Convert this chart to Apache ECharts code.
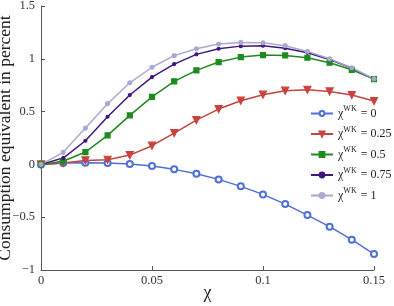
<!DOCTYPE html>
<html>
<head>
<meta charset="utf-8">
<script src="https://cdn.jsdelivr.net/npm/echarts@6/dist/echarts.min.js"></script>
<style>
    html, body { margin: 0; padding: 0; background: #ffffff; }
    #chart { width: 394px; height: 306px; }
</style>
</head>
<body>
<div id="chart"></div>
<script>
    // x values (chi)
    var chiValues = [0, 0.01, 0.02, 0.03, 0.04, 0.05, 0.06, 0.07, 0.08, 0.09, 0.10, 0.11, 0.12, 0.13, 0.14, 0.15];
    var wkLabels = ['0', '0.25', '0.5', '0.75', '1'];
    // consumption equivalent, one array per chi^WK
    var wk0 = [0, 0.013, 0.016, 0.013, 0.003, -0.016, -0.047, -0.088, -0.142, -0.208, -0.284, -0.376, -0.48, -0.59, -0.713, -0.849];
    var wk025 = [0, 0.013, 0.038, 0.044, 0.088, 0.177, 0.297, 0.42, 0.524, 0.603, 0.66, 0.698, 0.707, 0.691, 0.657, 0.6];
    var wk05 = [0, 0.03, 0.117, 0.275, 0.464, 0.64, 0.786, 0.89, 0.969, 1.016, 1.035, 1.032, 1.01, 0.963, 0.896, 0.808];
    var wk075 = [0, 0.06, 0.224, 0.451, 0.657, 0.827, 0.95, 1.042, 1.095, 1.12, 1.124, 1.10, 1.057, 0.994, 0.912, 0.808];
    var wk1 = [0, 0.114, 0.344, 0.575, 0.773, 0.92, 1.03, 1.095, 1.14, 1.155, 1.152, 1.124, 1.07, 1.0, 0.915, 0.81];
    var yTicks = ['-1', '-0.5', '0', '0.5', '1', '1.5'];

    var chart = echarts.init(document.getElementById('chart'));
    var serif = '"Liberation Serif", "Times New Roman", serif';

    function pairs(ys) {
        var out = [];
        for (var i = 0; i < chiValues.length; i++) {
            out.push([chiValues[i], ys[i]]);
        }
        return out;
    }

    //每条线的样式
    var styles = [
        {color: '#4d6fd8', symbol: 'emptyCircle', size: 6, rotate: 0},
        {color: '#c8433d', symbol: 'triangle', size: 7, rotate: 180},
        {color: '#1f8a1f', symbol: 'rect', size: 5, rotate: 0},
        {color: '#3f167e', symbol: 'circle', size: 3, rotate: 0},
        {color: '#a9a9cf', symbol: 'circle', size: 4, rotate: 0}
    ];
    var allData = [wk0, wk025, wk05, wk075, wk1];

    var series = [];
    for (var k = 0; k < allData.length; k++) {
        series.push({
            name: 'wk' + wkLabels[k],
            type: 'line',
            data: pairs(allData[k]),
            symbol: styles[k].symbol,
            symbolSize: styles[k].size,
            symbolRotate: styles[k].rotate,
            showAllSymbol: true,
            lineStyle: {color: styles[k].color, width: 1.5},
            itemStyle: {color: styles[k].color, borderColor: styles[k].color, borderWidth: 1.2},
            animation: false
        });
    }

    var option = {
        backgroundColor: '#ffffff',
        grid: {left: 41, right: 20, top: 6, bottom: 36, outerBoundsMode: 'none', containLabel: false},
        legend: {
            orient: 'vertical',
            left: 310,
            top: 105,
            itemWidth: 22,
            itemHeight: 6,
            itemGap: 6,
            padding: 0,
            data: series.map(function (s) { return s.name; }),
            formatter: function (name) {
                return '{a|χ}{sup|WK}{a| = ' + name.slice(2) + '}';
            },
            textStyle: {
                fontFamily: serif,
                color: '#222',
                width: 70,
                overflow: 'none',
                rich: {
                    a: {fontFamily: serif, fontSize: 12, color: '#222'},
                    sup: {fontFamily: serif, fontSize: 8, color: '#222', padding: [0, 1, 9, 0]}
                }
            }
        },
        xAxis: {
            type: 'value',
            min: 0,
            max: 0.15,
            interval: 0.05,
            name: 'χ',
            nameLocation: 'middle',
            nameGap: 14,
            nameMoveOverlap: false,
            nameTextStyle: {fontFamily: serif, fontSize: 18, color: '#222'},
            axisLine: {onZero: false, lineStyle: {color: '#555', width: 1}},
            axisTick: {inside: true, length: 4, lineStyle: {color: '#555'}},
            axisLabel: {fontFamily: serif, fontSize: 12.5, color: '#333', margin: 4},
            splitLine: {show: false}
        },
        yAxis: {
            type: 'value',
            min: -1,
            max: 1.5,
            interval: 0.5,
            name: 'Consumption equivalent in percent',
            nameLocation: 'middle',
            nameGap: 27,
            nameMoveOverlap: false,
            nameTextStyle: {fontFamily: serif, fontSize: 17.5, color: '#222'},
            axisLine: {show: true, onZero: false, lineStyle: {color: '#555', width: 1}},
            axisTick: {show: true, inside: true, length: 4, lineStyle: {color: '#555'}},
            axisLabel: {
                fontFamily: serif, fontSize: 12.5, color: '#333', margin: 6,
                formatter: function (v) {
                    var s = yTicks[Math.round((v + 1) / 0.5)];
                    return s.replace('-', '\u2212');
                }
            },
            splitLine: {show: false}
        },
        series: series
    };
    chart.setOption(option);
</script>
</body>
</html>
